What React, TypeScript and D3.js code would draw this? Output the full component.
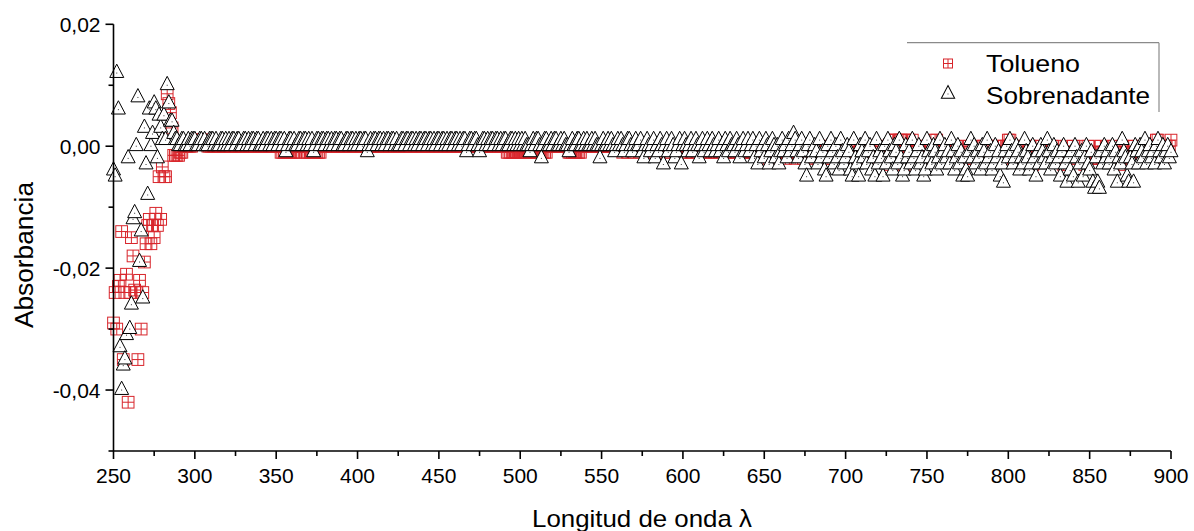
import React from "react";
import * as d3 from "d3";

// ---------- data (absorbance in thousandths, one value per nm) ----------
const startNm = 250;
const endNm = 900;

// Tolueno 250–290 nm
const toluenoA = [
  -29, -24, -30, -23, -22, -14, -35, -24, -21, -42,
  -24, -15, -18, -23.6, -24, -35, -22, -30, -24, -19,
  -16, -13, -12, -16, -13, -15, -11, -13, -5, -12,
  -3.4, -5, -5, 8.6, 7, 5.5, 3, -1.5, -1.5, -1.5, -1.5,
];
// Tolueno 291–560 nm
const toluenoB = [
  -1, -1, 0, 0, 0, 0, 0, 0, 1, 1, 1, 1, 1, 1, 1, 1, 1, 0, 0, 0, 0, 0, 0, 0, 0, 0, 0, 0, 0, 0,
  0, 0, 0, 0, 0, 0, 0, 0, 0, 0, 0, 0, 0, 0, 0, 0, 0, 0, 0, 0, 0, 0, 0, 0, 0, 0, 0, 0, 0, 0,
  0, 0, -1, -1, -1, -1, -1, -1, -1, -1, -1, -1, 0, 0, 0, 0, 0, -1, -1, -1, -1, -1, -1, -1, -1, -1, -1, 0, 0, 0,
  0, 0, 0, 0, 0, 0, 0, 0, 0, 0, 0, 0, 0, 0, 0, 0, 0, 0, 0, 0, 0, 0, 0, 0, 0, 0, 0, 0, 0, 0,
  0, 0, 0, 0, 0, 0, 0, 0, 0, 0, 0, 0, 0, 0, 0, 0, 0, 0, 0, 0, 0, 0, 0, 0, 0, 0, 0, 0, 0, 0,
  0, 0, 0, 0, 0, 0, 0, 0, 0, 0, 0, 0, 0, 0, 0, 0, 0, 0, 0, 0, 0, 0, 0, 0, 0, 0, 0, 0, 0, 0,
  0, 0, 0, 0, 0, 0, 0, 0, 0, 0, 0, 0, 0, 0, 0, 0, 0, 0, 0, 0, 0, -1, -1, -1, -1, -1, -1, -1, -1, -1,
  -1, -1, -1, -1, -1, -1, -1, -1, -1, -1, -1, -1, -1, -1, -1, -1, 0, 0, 0, 0, 0, 0, 0, 0, 0, 0, 0, 0, 0, -1,
  -1, -1, -1, -1, -1, -1, -1, 0, 0, 0, 0, 0, 0, 0, 0, 0, 0, 0, 0, 0, 0, 0, 0, 0, 0, 0, 0, 0, 0, 0,
];
// Tolueno 561–900 nm
const toluenoC = [
  0, 0, -1, 0, 0, -1, 0, 0, 0, -1, 0, 0, 0, -1, 0, 0, 0, -1, 0, 0,
  0, -1, 0, 0, -1, 0, 0, 0, -1, 0, 0, -1, 0, 0, 0, -1, 0, 0, -1, 0,
  0, -1, 0, 0, -1, -1, 0, 0, -1, 0, -1, 0, 0, -1, 0, -1, 0, 0, -1, 0,
  -1, 0, 0, -1, 0, -1, 0, -1, 0, 0, -1, 0, -1, 0, 0, -1, -1, 0, -1, 0,
  0, -1, 0, -1, -1, 0, -1, 0, 0, -1, 0, -1, -2, 0, -1, 0, -1, -1, 0, -1,
  -1, 0, -2, -1, 0, -1, 0, -1, -2, 0, -1, 0, -1, -2, -1, 0, -1, -2, 0, -1,
  0, -1, -2, -1, 0, -1, -2, 0, -1, -1, -2, 0, -1, 0, -2, -1, 0, -1, -2, -1,
  -1, 0, -2, -1, -1, 0, -2, -1, 0, -1, -2, 0, -1, -2, 0, -1, -1, 0, -2, -1,
  0, -1, -2, -1, 0, -1, -3, 0, 1, 1, 1, 0, 1, 1, -1, -3, 0, 1, 1, 0,
  1, 0, -1, -2, 0, -1, -2, -1, 0, -1, -2, 0, -1, 0, 1, 1, 0, -1, -2, -1,
  0, -1, -2, -1, 0, -1, -2, 0, -1, -2, -1, 0, -1, -2, -1, 0, -1, -2, 0, -1,
  0, -1, -2, -1, 0, -1, -2, -1, 0, -1, -2, 0, -1, 0, -1, -2, 0, -1, 0, 1,
  1, 0, -1, -2, -1, 0, -1, -2, 0, -1, -2, -1, 0, -1, -3, -1, 0, -2, -1, 0,
  -1, -2, 0, -1, -1, -2, 0, -1, -2, -1, 0, -1, -2, -3, -1, 0, -1, -2, -1, 0,
  -1, -2, -1, 0, -1, -2, -3, -1, 0, -1, -2, -1, 0, -2, -1, -2, 0, -1, -2, -1,
  0, -1, -2, -1, 0, -1, -2, -3, -1, 0, -1, -2, -1, 0, -1, -2, 0, -1, -2, -1,
  0, -1, -2, -1, 0, -1, 0, -1, -2, 0, 1, 1, 0, -1, -2, -1, 0, -1, 0, 1,
];

// Sobrenadante 250–290 nm
const sobrenadanteA = [
  -4, -5, 12, 6, -33, -40, -36, -35, -31, -2,
  -30, -26, -12, -11, 0, 8, -19, -14, -25, 3,
  -3, -8, 6, 0, 2, 7, 6, -2, 5, 3,
  1, 5, 1, 10, 7, 4, 4, 2, 1, 1, 0,
];
// Sobrenadante 291–560 nm
const sobrenadanteB = [
  0, 1, 1, 0, 0, 1, 0, 1, 1, 1, 0, 0, 1, 1, 0, 1, 0, 0, 1, 1, 1, 0, 1, 0, 0, 1, 1, 0, 1, 0,
  1, 0, 1, 1, 0, 1, 1, 0, 0, 1, 1, 0, 1, 0, 1, 1, 0, 1, 1, 0, 0, 1, 0, 1, 1, 0, 1, 0, 1, 1,
  0, 1, 1, 0, 1, -1, 0, 1, 1, 0, 1, 0, 0, 1, 1, 0, 1, 1, 0, 1, 0, 1, -1, 0, 1, 1, 0, 1, 1, 0,
  1, 1, 0, 1, 0, 1, 1, 0, 1, 1, 0, 0, 1, 1, 0, 1, 1, 0, 1, 0, 1, 1, 0, 1, 1, -1, 0, 1, 0, 1,
  1, 0, 1, 1, 0, 1, 0, 1, 1, 0, 1, 1, 0, 1, 0, 0, 1, 1, 0, 1, 1, 0, 1, 1, 0, 1, 0, 1, 1, 0,
  1, 1, 0, 1, 1, 0, 1, 0, 1, 1, 0, 1, 1, 0, 1, 0, 1, 1, 0, 1, 1, 0, 1, 0, 1, 1, -1, 0, 1, 1,
  0, 1, 1, 0, -1, 0, 1, 1, 0, 1, 0, 1, 1, 0, 1, 1, 0, 1, 0, 1, 1, 0, 0, 1, 1, 0, 1, 0, 1, 0,
  1, 0, 1, 0, 0, -1, 0, 1, 0, 1, 1, 0, -2, 0, 1, 1, 0, 0, 1, 0, 1, 1, 0, 0, 1, 0, 1, 0, 0, -1,
  0, 1, 0, 0, 1, 1, 0, 0, 1, 0, 1, 0, 0, 1, 0, 1, 0, 0, -2, 0, 1, 0, 0, 1, 0, 1, 0, -1, 0, 1,
];
// Sobrenadante 561–900 nm
const sobrenadanteC = [
  0, 1, 0, -1, 0, 1, 1, 0, -1, 0, 1, 0, 0, 1, -1, -2, 0, 1, 0, -1,
  0, 1, -2, 0, -1, 1, 0, -3, 0, 1, -1, 0, 1, 0, -2, -1, 0, 1, -3, 0,
  1, 0, -1, 0, 1, -1, 0, 1, 0, -2, 0, 1, -1, 0, 1, 0, -1, 1, 0, -1,
  0, 1, -1, 0, -2, 1, 0, -1, 1, 0, 0, -1, 1, 0, -2, 0, 1, -1, 0, 1,
  -1, 0, 1, -2, 0, -3, 1, -1, 0, -2, 1, 0, -3, -1, 1, 0, -2, 0, -3, -1,
  1, -1, 0, -2, 1, -1, 0, 2, 1, -1, -2, 0, 1, -1, -3, -5, 0, 1, -2, -1,
  0, -1, -3, 1, -2, -1, -4, -5, 0, -2, 1, -1, -3, 0, -2, -4, 1, -1, -3, -2,
  0, -1, -4, -5, 1, -2, -3, -5, 0, -1, -2, 1, -3, -1, 0, -4, -2, -5, 1, -3,
  -1, -2, -5, 0, -3, 1, -1, -2, -4, 0, -1, -3, 1, -2, -5, -4, 0, -2, -1, -3,
  1, -2, -4, -1, 0, -3, -2, -5, -4, 1, -1, -2, -3, 0, -1, -4, -2, 1, -3, -1,
  0, -2, -1, -3, 1, -1, -4, -2, 0, -3, -1, -5, -2, -4, -5, -1, 1, -2, 0, -3,
  -1, -2, -4, 0, -1, -3, 1, -2, -1, -4, -3, 0, -2, -1, -5, -3, -6, -1, 0, -2,
  1, -1, -3, -2, 0, -1, -4, -2, -3, 1, -1, -2, -4, -3, 0, -2, -5, -1, -3, 0,
  -1, -2, -3, 1, -1, -4, -2, 0, -3, -1, -2, -5, -1, 0, -3, -6, -2, -4, -1, -5,
  0, -2, -6, -3, -1, -5, -2, 0, -3, -4, -1, -6, -7, -2, -6, -7, -1, -3, 0, -2,
  -1, -3, -2, 0, -4, -1, -6, -2, -3, 1, -1, -2, -5, -6, -2, -3, -6, 0, -1, -3,
  0, -1, -2, 1, -3, -1, 0, -2, -1, -3, 0, 1, -1, -2, 0, -3, -1, 0, -2, -1,
];

const xTicks = [250, 300, 350, 400, 450, 500, 550, 600, 650, 700, 750, 800, 850, 900];
const xMinorTicks = [275, 325, 375, 425, 475, 525, 575, 625, 675, 725, 775, 825, 875];
const yTicks = [0.02, 0.0, -0.02, -0.04];
const yMinorTicks = [0.01, -0.01, -0.03, -0.05];
const seriesNames = ["Tolueno", "Sobrenadante"];

const RED = "#d8262c";
const FONT = "'Liberation Sans', Arial, Helvetica, sans-serif";

const fmt = (v: number) =>
  (v < -1e-9 ? "-" : "") + Math.abs(v).toFixed(2).replace(".", ",");

function toPoints(values: number[]) {
  return values.map((v, i) => ({ nm: startNm + i, a: v / 1000 }));
}

const triPath = "M0,-8.9L7,4.4L-7,4.4Z";

function Square({ cx, cy, s }: { cx: number; cy: number; s: number }) {
  const h = s / 2;
  return (
    <g transform={`translate(${cx},${cy})`}>
      <rect x={-h} y={-h} width={s} height={s} fill="none" stroke={RED} strokeWidth={1} />
      <line x1={0} x2={0} y1={-h} y2={h} stroke={RED} strokeWidth={1} />
      <line x1={-h} x2={h} y1={0} y2={0} stroke={RED} strokeWidth={1} />
    </g>
  );
}

function Triangle({ cx, cy, k = 1 }: { cx: number; cy: number; k?: number }) {
  return (
    <g transform={`translate(${cx},${cy}) scale(${k})`}>
      <path d={triPath} fill="#fff" stroke="#000" strokeWidth={1 / k} strokeLinejoin="miter" />
      <rect x={-0.5} y={-0.5} width={1} height={1} fill="#333" />
    </g>
  );
}

export default function App() {
  const W = 1194;
  const H = 531;
  const x = d3.scaleLinear().domain([startNm, endNm]).range([113.5, 1171]);
  const y = d3.scaleLinear().domain([-0.05, 0.02]).range([451, 24.3]);

  const tol = toPoints([...toluenoA, ...toluenoB, ...toluenoC]);
  const sob = toPoints([...sobrenadanteA, ...sobrenadanteB, ...sobrenadanteC]);

  const x0 = x(startNm);
  const yBottom = y(-0.05);

  return (
    <svg
      width={W}
      height={H}
      viewBox={`0 0 ${W} ${H}`}
      style={{ position: "absolute", left: 0, top: 0, display: "block", background: "#fff" }}
      fontFamily={FONT}
    >
      <rect width={W} height={H} fill="#fff" />

      {/* data: Tolueno underneath, Sobrenadante on top */}
      <g>
        {tol.map((d) => (
          <Square key={`t${d.nm}`} cx={x(d.nm)} cy={y(d.a)} s={11.7} />
        ))}
      </g>
      <g>
        {sob.map((d) => (
          <Triangle key={`s${d.nm}`} cx={x(d.nm)} cy={y(d.a)} />
        ))}
      </g>

      {/* axes */}
      <g stroke="#000" strokeWidth={1.6}>
        <line x1={x0} x2={x0} y1={y(0.02)} y2={yBottom} />
        <line x1={x0} x2={x(endNm)} y1={yBottom} y2={yBottom} />
        {yTicks.map((t) => (
          <line key={`yt${t}`} x1={x0 - 8} x2={x0} y1={y(t)} y2={y(t)} />
        ))}
        {yMinorTicks.map((t) => (
          <line key={`ym${t}`} x1={x0 - 5} x2={x0} y1={y(t)} y2={y(t)} />
        ))}
        {xTicks.map((t) => (
          <line key={`xt${t}`} x1={x(t)} x2={x(t)} y1={yBottom} y2={yBottom + 8} />
        ))}
        {xMinorTicks.map((t) => (
          <line key={`xm${t}`} x1={x(t)} x2={x(t)} y1={yBottom} y2={yBottom + 5} />
        ))}
      </g>

      <g fontSize={21} fill="#000">
        {yTicks.map((t) => (
          <text key={`yl${t}`} x={x0 - 13} y={y(t)} dy="0.36em" textAnchor="end">
            {fmt(t)}
          </text>
        ))}
        {xTicks.map((t) => (
          <text key={`xl${t}`} x={x(t)} y={483} textAnchor="middle">
            {t}
          </text>
        ))}
      </g>

      {/* axis titles */}
      <text x={642} y={527} textAnchor="middle" fontSize={24} fill="#000" textLength={220} lengthAdjust="spacingAndGlyphs">
        Longitud de onda λ
      </text>
      <text
        transform={`translate(33,255) rotate(-90)`}
        textAnchor="middle"
        fontSize={25}
        fill="#000"
        textLength={146}
        lengthAdjust="spacingAndGlyphs"
      >
        Absorbancia
      </text>

      {/* legend */}
      <g>
        <line x1={907} x2={1159} y1={42.7} y2={42.7} stroke="#8a8a8a" strokeWidth={1.2} />
        <line x1={1159} x2={1159} y1={42.7} y2={112} stroke="#8a8a8a" strokeWidth={1.2} />
        <Square cx={948} cy={63.5} s={9} />
        <Triangle cx={948} cy={94} k={0.95} />
        <text x={986} y={72} fontSize={24} fill="#000" textLength={94} lengthAdjust="spacingAndGlyphs">
          {seriesNames[0]}
        </text>
        <text x={986} y={104} fontSize={24} fill="#000" textLength={164} lengthAdjust="spacingAndGlyphs">
          {seriesNames[1]}
        </text>
      </g>
    </svg>
  );
}
